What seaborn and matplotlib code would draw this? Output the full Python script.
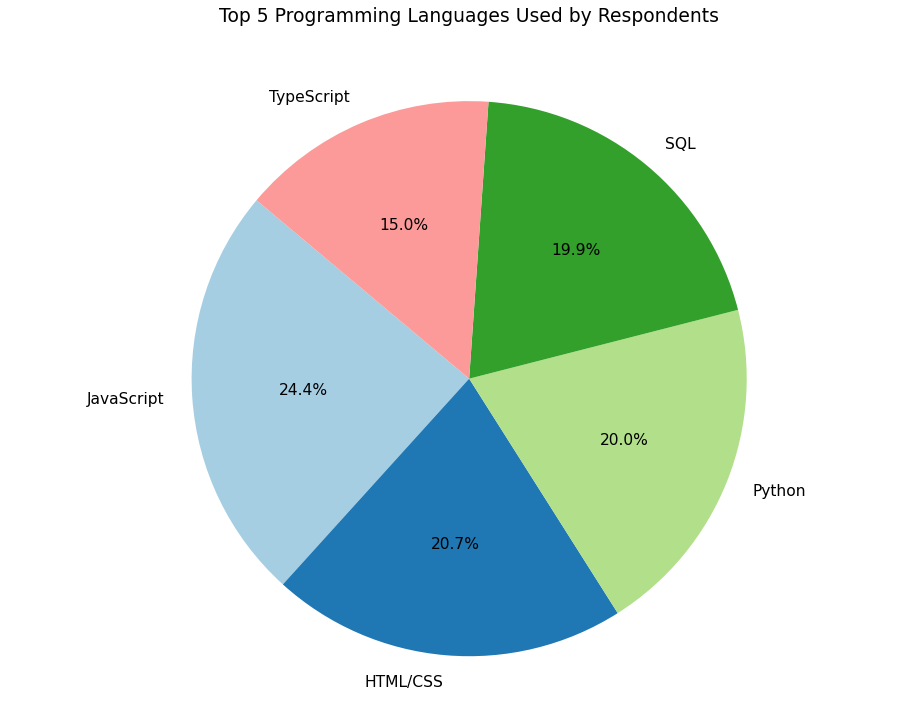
import matplotlib
matplotlib.use("Agg")
import matplotlib.pyplot as plt
import seaborn as sns

# Data
languages = ["JavaScript", "HTML/CSS", "Python", "SQL", "TypeScript"]
shares = [24.4, 20.7, 20.0, 19.9, 15.0]

colors = sns.color_palette("Paired", len(languages))

fig = plt.figure(figsize=(9.11, 7.15), dpi=100)
ax = fig.add_axes([0.075, 0.0434, 0.88, 0.854])
ax.pie(shares, labels=languages, colors=colors, autopct="%1.1f%%", startangle=140,
       textprops={"fontsize": 11.2})
ax.axis("equal")
fig.suptitle("Top 5 Programming Languages Used by Respondents", fontsize=13.5, x=0.515, y=0.99)
fig.savefig("out.png")
plt.close()
